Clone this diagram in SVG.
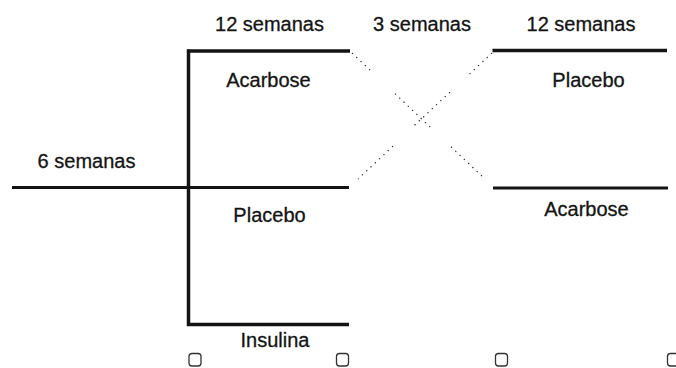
<svg xmlns="http://www.w3.org/2000/svg" width="676" height="368" viewBox="0 0 676 368">
  <style>
    .t { font-family: "Liberation Sans", Arial, sans-serif; font-size: 20px; fill: #141414; text-anchor: middle; stroke: #141414; stroke-width: 0.3; }
    .arm { stroke: #141414; stroke-width: 3.5; fill: none; stroke-linecap: butt; }
    .thin { stroke: #141414; stroke-width: 3; fill: none; }
    .dot { stroke: #3a3a3a; stroke-width: 1.3; fill: none; stroke-dasharray: 1.3 4.6; }
    .box { fill: none; stroke: #333; stroke-width: 1.3; }
  </style>

  <g id="headers">
    <text class="t" x="269.5" y="31">12 semanas</text>
    <text class="t" x="422" y="31">3 semanas</text>
    <text class="t" x="581" y="31">12 semanas</text>
  </g>

  <g id="runin">
    <line class="thin" x1="12" y1="187.5" x2="188" y2="187.5"/>
    <text class="t" x="86.5" y="168">6 semanas</text>
  </g>

  <g id="split">
    <line class="arm" x1="188.5" y1="49.5" x2="188.5" y2="326"/>
  </g>

  <g id="arm-acarbose-1">
    <line class="arm" x1="187" y1="51" x2="350" y2="51"/>
    <text class="t" x="268.5" y="87">Acarbose</text>
  </g>

  <g id="arm-placebo-1">
    <line class="thin" x1="188" y1="187.5" x2="349" y2="187.5"/>
    <text class="t" x="269.5" y="222">Placebo</text>
  </g>

  <g id="arm-insulina">
    <line class="arm" x1="187" y1="324.5" x2="349" y2="324.5"/>
    <text class="t" x="275" y="347">Insulina</text>
  </g>

  <g id="arm-placebo-2">
    <line class="arm" x1="492.5" y1="50.5" x2="667" y2="50.5"/>
    <text class="t" x="588.5" y="87">Placebo</text>
  </g>

  <g id="arm-acarbose-2">
    <line class="thin" x1="493" y1="188" x2="668" y2="188"/>
    <text class="t" x="586.5" y="216">Acarbose</text>
  </g>

  <g id="connectors">
    <path class="dot" d="M352,53 L373,72.9 M395,93.7 L431,127.8 M451,146.8 L484,178"/>
    <path class="dot" d="M492,53 L466,77.4 M450,92.1 L412,127.6 M393,146.1 L358,179"/>
  </g>

  <g id="markers">
    <rect class="box" x="189" y="353.5" width="12" height="12.5" rx="3"/>
    <rect class="box" x="336.5" y="353.5" width="12" height="12.5" rx="3"/>
    <rect class="box" x="495.5" y="353.5" width="12" height="12.5" rx="3"/>
    <rect class="box" x="667.5" y="353.5" width="12" height="12.5" rx="3"/>
  </g>
</svg>
